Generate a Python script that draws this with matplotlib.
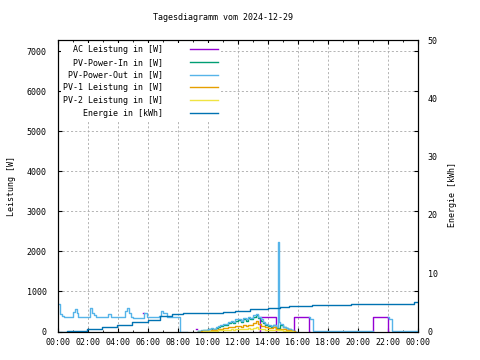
import numpy as np
import matplotlib
matplotlib.use("Agg")
import matplotlib.pyplot as plt
from matplotlib.ticker import MultipleLocator, FuncFormatter

nan = np.nan

# PV-Power-Out at night (hour of day, W)
out_night_h = [0.0, 0.1, 0.15, 0.25, 0.4, 1.0, 1.13, 1.27, 1.33, 2.13, 2.24, 2.4, 2.55,
               3.33, 3.5, 4.47, 4.6, 4.75, 4.85, 5.0, 5.7, 5.9, 6.7, 6.85, 7.0, 7.25,
               8.1, 8.6]
out_night_w = [690, 520, 440, 380, 370, 494, 553, 453, 370, 578, 470, 420, 370,
               445, 370, 500, 578, 450, 370, 330, 470, 350, 395, 503, 450, 370,
               0, nan]

# daytime grid shared by the PV series
day_h = [9.33, 9.5, 9.67, 9.83,
         10.0, 10.17, 10.33, 10.5, 10.67, 10.83,
         11.0, 11.17, 11.33, 11.5, 11.67, 11.83,
         12.0, 12.17, 12.33, 12.5, 12.67, 12.83,
         13.0, 13.17, 13.33, 13.5, 13.67, 13.83,
         14.0, 14.17, 14.33, 14.5, 14.67, 14.70, 14.73, 14.83,
         15.0, 15.17, 15.33, 15.5, 15.67, 15.83]
out_day_w = [10, 30, 45, 40,
             60, 75, 70, 110, 140, 150,
             185, 175, 230, 260, 240, 300,
             320, 270, 330, 300, 370, 330,
             400, 440, 360, 300, 230, 190,
             160, 140, 170, 110, 2230, 1210, 230, 180,
             120, 90, 60, 40, 20, 0]
in_day_w = [5, 20, 35, 30,
            50, 60, 55, 95, 120, 130,
            165, 150, 205, 235, 215, 270,
            290, 245, 300, 270, 340, 300,
            370, 410, 330, 270, 200, 160,
            135, 120, 150, 95, 90, 90, 85, 150,
            100, 75, 50, 30, 10, 0]
pv1_day_w = [0, 5, 10, 10,
             20, 30, 25, 45, 60, 65,
             80, 75, 100, 115, 105, 130,
             145, 120, 150, 140, 170, 150,
             200, 260, 190, 140, 130, 110,
             95, 85, 100, 70, 65, 65, 60, 60,
             50, 40, 25, 15, 5, 0]
pv2_day_w = [0, 0, 5, 5,
             10, 15, 12, 20, 25, 30,
             35, 30, 45, 50, 45, 55,
             60, 50, 65, 55, 75, 65,
             90, 100, 70, 55, 50, 45,
             40, 35, 40, 30, 30, 30, 28, 25,
             20, 15, 10, 5, 0, 0]

# PV-Power-Out in the evening
out_eve_h = [15.9, 16.75, 16.8, 16.97, 20.98, 22.0, 22.07, 22.25, 24.0]
out_eve_w = [nan, 360, 320, 15, nan, 350, 300, 15, 15]

# AC Leistung blocks
ac_h = [5.68, 5.75, 9.22, 9.28, 13.4, 13.47, 14.5, 14.55, 15.6, 15.7, 16.75, 16.8,
        20.9, 20.98, 22.0, 22.05]
ac_w = [466, nan, 60, nan, 0, 374, 0, nan, 0, 374, 0, nan, 0, 374, 0, nan]

# Energie (kWh)
energy_h = [0.0, 0.6, 1.0, 1.9, 2.9, 3.9, 4.9, 6.0, 6.8, 7.6, 8.3, 11.0, 11.8, 12.8,
            14.0, 14.8, 15.4, 16.9, 19.5, 22.25, 23.7, 24.0]
energy_kwh = [0.0, 0.05, 0.15, 0.43, 0.8, 1.2, 1.65, 2.05, 2.6, 2.95, 3.2, 3.37, 3.54,
              3.83, 4.05, 4.22, 4.34, 4.5, 4.68, 4.8, 5.07, 5.07]

labels = ["AC Leistung in [W]", "PV-Power-In in [W]", "PV-Power-Out in [W]",
          "PV-1 Leistung in [W]", "PV-2 Leistung in [W]", "Energie in [kWh]"]
colors = ["#9400d3", "#009e73", "#56b4e9", "#e69f00", "#f0e442", "#0072b2"]


def hour_label(x, pos):
    return "%02d:00" % (int(round(x)) % 24)


def main():
    plt.rcParams["font.family"] = "DejaVu Sans Mono"
    plt.rcParams["font.size"] = 6

    fig = plt.figure(figsize=(4.8, 3.6), dpi=100)
    ax = fig.add_axes([58 / 480, 1 - 331.5 / 360, 360 / 480, 291.5 / 360])
    ax2 = ax.twinx()

    out_h = out_night_h + day_h + out_eve_h
    out_w = out_night_w + out_day_w + out_eve_w

    lw = 1.0
    handles = []
    handles += ax.plot(ac_h, ac_w, drawstyle="steps-post", color=colors[0], lw=lw)
    handles += ax.plot(day_h, in_day_w, drawstyle="steps-post", color=colors[1], lw=lw)
    handles += ax.plot(out_h, out_w, drawstyle="steps-post", color=colors[2], lw=lw)
    handles += ax.plot(day_h, pv1_day_w, drawstyle="steps-post", color=colors[3], lw=lw)
    handles += ax.plot(day_h, pv2_day_w, drawstyle="steps-post", color=colors[4], lw=lw)
    handles += ax2.plot(energy_h, energy_kwh, drawstyle="steps-post", color=colors[5], lw=lw)

    ax.set_xlim(0, 24)
    ax.set_ylim(0, 7280)
    ax2.set_ylim(0, 50)

    ax.xaxis.set_major_locator(MultipleLocator(2))
    ax.xaxis.set_minor_locator(MultipleLocator(1))
    ax.xaxis.set_major_formatter(FuncFormatter(hour_label))
    ax.tick_params(axis="x", which="both", direction="in", top=True, pad=5)
    ax.tick_params(axis="x", which="major", length=3)
    ax.tick_params(axis="x", which="minor", length=1.5)

    ax.yaxis.set_major_locator(MultipleLocator(1000))
    ax.tick_params(axis="y", direction="in", left=True, right=True, length=3, pad=8)
    ax2.yaxis.set_major_locator(MultipleLocator(10))
    ax2.tick_params(axis="y", length=0, pad=7)

    ax.grid(True, which="major", color="#a8a8a8", linestyle=(0, (2.5, 2.5)), linewidth=0.6)

    ax.set_ylabel("Leistung [W]")
    ax.yaxis.label.set_verticalalignment("center")
    ax.yaxis.set_label_coords(-0.129, 0.5)
    ax2.set_ylabel("Energie [kWh]")
    ax2.yaxis.label.set_verticalalignment("center")
    ax2.yaxis.set_label_coords(1.096, 0.47)

    width = max(len(s) for s in labels)
    padded = [s.rjust(width) for s in labels]
    leg = ax2.legend(handles, padded, loc="upper left", markerfirst=False,
                     frameon=True, framealpha=1, fancybox=False, edgecolor="none",
                     handlelength=3.4, handletextpad=3.2, labelspacing=0.45,
                     borderpad=0.3, borderaxespad=0.3)
    leg.get_frame().set_facecolor("white")

    fig.text(223 / 480, 1 - 17.7 / 360, "Tagesdiagramm vom 2024-12-29",
             ha="center", va="center")

    fig.savefig("out.png", dpi=100)


if __name__ == "__main__":
    main()
